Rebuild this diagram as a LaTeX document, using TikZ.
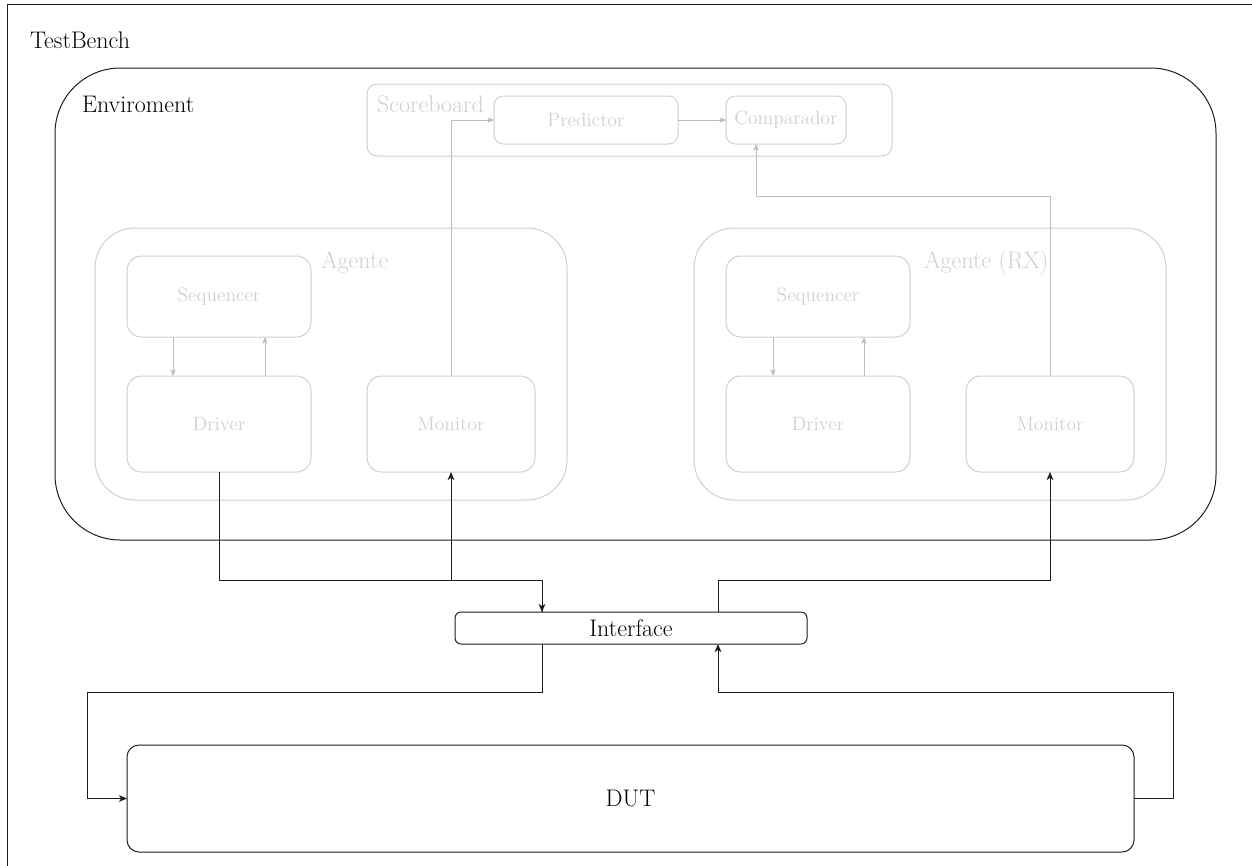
\documentclass[tikz,border=0pt]{standalone}
\usetikzlibrary{arrows.meta,fit}

\definecolor{faint}{HTML}{D0D0D0}
\definecolor{faintline}{HTML}{BDBDBD}
\definecolor{ink}{HTML}{1E1E1E}

\tikzset{
  base/.style={inner sep=0pt, outer sep=0pt},
  frame/.style={draw=ink, line width=0.75pt, rounded corners=#1},
  ghost/.style={draw=faint, line width=0.75pt, rounded corners=#1, text=faint},
  bigtxt/.style={base, font=\rmfamily\fontsize{18pt}{20pt}\selectfont},
  smalltxt/.style={font=\rmfamily\fontsize{14.5pt}{17pt}\selectfont},
  arr/.style={draw=ink, line width=0.75pt, -{Stealth[length=6pt,width=5pt,inset=1.6pt]}},
  garr/.style={draw=faintline, line width=0.6pt, -{Stealth[length=5pt,width=4pt,inset=1.3pt]}},
}

\begin{document}
\begin{tikzpicture}[x=0.75pt,y=-0.75pt]
\useasboundingbox (0,0) rectangle (1252,865);
\fill[white] (0,0) rectangle (1252,865);

% test bench frame (runs off the page at right and bottom)
\begin{scope}
  \clip (0,0) rectangle (1252,865);
  \draw[ink, line width=0.75pt] (7,4) rectangle (1262,880);
\end{scope}
\node[bigtxt, anchor=base west] (tbLabel) at (30,48) {TestBench};

% environment
\node[base, frame=49pt, fit={(55,68) (1216,540)}] (env) {};
\node[bigtxt, anchor=base west] (envLabel) at (82,112) {Enviroment};

% scoreboard
\node[base, ghost=7.5pt, fit={(367,84) (892,156)}] (sb) {};
\node[bigtxt, text=faint, anchor=base west] (sbLabel) at (377,112) {Scoreboard};
\node[base, ghost=7pt, fit={(494,96) (678,144)}] (pred) {};
\node[smalltxt, text=faint] at (pred.center) {Predictor};
\node[base, ghost=7pt, fit={(726,96) (846,144)}] (cmp) {};
\node[smalltxt, text=faint] at (cmp.center) {Comparador};

% agent (left)
\node[base, ghost=30pt, fit={(95,228) (567,500)}] (agL) {};
\node[bigtxt, text=faint, anchor=base west] (agLLabel) at (321,268) {Agente};
\node[base, ghost=11pt, fit={(127,256) (311,337)}] (seqL) {};
\node[smalltxt, text=faint] at (seqL.center) {Sequencer};
\node[base, ghost=11pt, fit={(127,376) (311,472)}] (drvL) {};
\node[smalltxt, text=faint] at (drvL.center) {Driver};
\node[base, ghost=11pt, fit={(367,376) (535,472)}] (monL) {};
\node[smalltxt, text=faint] at (monL.center) {Monitor};

% agent (RX)
\node[base, ghost=30pt, fit={(694,228) (1166,500)}] (agR) {};
\node[bigtxt, text=faint, anchor=base west] (agRLabel) at (924,268) {Agente (RX)};
\node[base, ghost=11pt, fit={(726,256) (910,337)}] (seqR) {};
\node[smalltxt, text=faint] at (seqR.center) {Sequencer};
\node[base, ghost=11pt, fit={(726,376) (910,472)}] (drvR) {};
\node[smalltxt, text=faint] at (drvR.center) {Driver};
\node[base, ghost=11pt, fit={(966,376) (1134,472)}] (monR) {};
\node[smalltxt, text=faint] at (monR.center) {Monitor};

% interface and DUT
\node[base, frame=4.5pt, fit={(455,612) (807,644)}] (ifc) {};
\node[bigtxt] at (ifc.center) {Interface};
\node[base, frame=9pt, fit={(127,745) (1134,852)}] (dut) {};
\node[bigtxt] at (dut.center) {DUT};

% routing helpers
\coordinate (busY) at (0,580);
\coordinate (loopY) at (0,692);
\coordinate (pL) at (542,0);
\coordinate (pR) at (718,0);
\coordinate (lx) at (87,0);
\coordinate (rx) at (1173,0);
\coordinate (sL1) at (173,0);
\coordinate (sL2) at (265,0);
\coordinate (sR1) at (773,0);
\coordinate (sR2) at (864,0);
\coordinate (cmpIn) at (756,196);

% sequencer <-> driver
\draw[garr] (seqL.south -| sL1) -- (drvL.north -| sL1);
\draw[garr] (drvL.north -| sL2) -- (seqL.south -| sL2);
\draw[garr] (seqR.south -| sR1) -- (drvR.north -| sR1);
\draw[garr] (drvR.north -| sR2) -- (seqR.south -| sR2);

% monitors to scoreboard
\draw[garr] (monL.north) |- (pred.west);
\draw[garr] (pred.east) -- (cmp.west);
\draw[garr] (monR.north) |- (cmpIn) -- (cmp.south -| cmpIn);

% agents <-> interface
\draw[arr] (drvL.south) |- (pL |- busY) -- (ifc.north -| pL);
\draw[arr] (ifc.north -| pL) |- (monL.south |- busY) -- (monL.south);
\draw[arr] (ifc.north -| pR) |- (monR.south |- busY) -- (monR.south);

% interface <-> DUT
\draw[arr] (ifc.south -| pL) |- (lx |- loopY) |- (dut.west);
\draw[arr] (dut.east) -| (rx |- loopY) -| (ifc.south -| pR);
\end{tikzpicture}
\end{document}
